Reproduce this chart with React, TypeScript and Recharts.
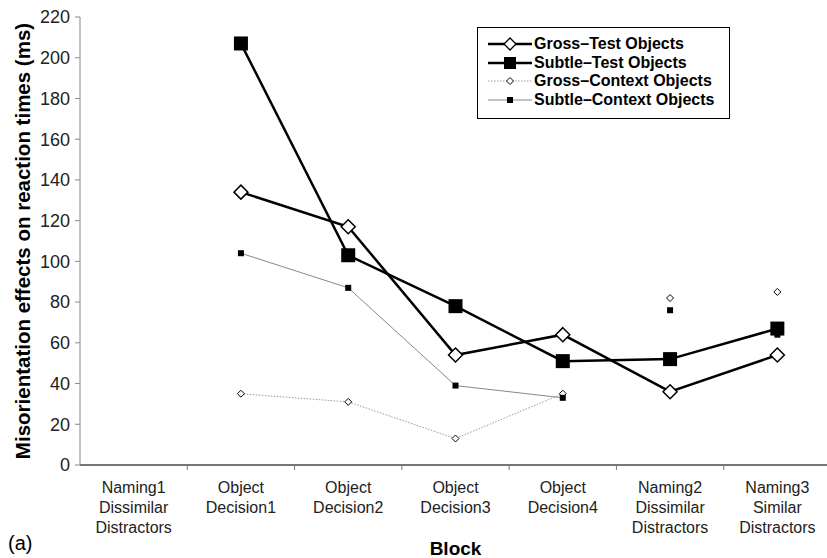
import { LineChart, Line, XAxis, YAxis, Legend, Label } from "recharts";

const blocks = [
  "Naming1|Dissimilar|Distractors",
  "Object|Decision1",
  "Object|Decision2",
  "Object|Decision3",
  "Object|Decision4",
  "Naming2|Dissimilar|Distractors",
  "Naming3|Similar|Distractors",
];
const grossTest = [null, 134, 117, 54, 64, 36, 54];
const subtleTest = [null, 207, 103, 78, 51, 52, 67];
const grossContext = [null, 35, 31, 13, 35, 82, 85];
const subtleContext = [null, 104, 87, 39, 33, 76, 64];
// context points are only joined by a line within the object decision blocks
const contextJoined = [false, true, true, true, true, false, false];
const yTicks = [0, 20, 40, 60, 80, 100, 120, 140, 160, 180, 200, 220];

const data = blocks.map((block, i) => ({
  block,
  grossTest: grossTest[i],
  subtleTest: subtleTest[i],
  grossCtxLine: contextJoined[i] ? grossContext[i] : null,
  grossCtxPts: contextJoined[i] ? null : grossContext[i],
  subtleCtxLine: contextJoined[i] ? subtleContext[i] : null,
  subtleCtxPts: contextJoined[i] ? null : subtleContext[i],
}));

const FONT = "'Liberation Sans', Arial, sans-serif";
const CHART_W = 835;
const PLOT_LEFT = 80;
const PLOT_RIGHT = 4;
const BAND = (CHART_W - PLOT_LEFT - PLOT_RIGHT) / blocks.length;

const diamond = (r: number, sw: number) => (props: any) => {
  const { cx, cy, value, index } = props;
  if (cx == null || cy == null || value == null) return <g key={index} />;
  return (
    <path
      key={index}
      d={`M${cx},${cy - r}L${cx + r},${cy}L${cx},${cy + r}L${cx - r},${cy}Z`}
      fill="#fff"
      stroke="#000"
      strokeWidth={sw}
    />
  );
};

const square = (h: number) => (props: any) => {
  const { cx, cy, value, index } = props;
  if (cx == null || cy == null || value == null) return <g key={index} />;
  return <rect key={index} x={cx - h} y={cy - h} width={h * 2} height={h * 2} fill="#000" />;
};

const XTick = (props: any) => {
  const { x, y, payload } = props;
  const lines = String(payload.value).split("|");
  return (
    <g>
      <line x1={x + BAND / 2} x2={x + BAND / 2} y1={y} y2={y + 5} stroke="#777" strokeWidth={1} />
      {lines.map((t, i) => (
        <text
          key={i}
          x={x}
          y={y + 28 + i * 20}
          textAnchor="middle"
          fontSize={16}
          fontFamily={FONT}
          fill="#222"
        >
          {t}
        </text>
      ))}
    </g>
  );
};

const legendItems = [
  { label: "Gross–Test Objects", line: "#000", width: 2.5, dash: undefined, marker: "bigDiamond" },
  { label: "Subtle–Test Objects", line: "#000", width: 2.5, dash: undefined, marker: "bigSquare" },
  { label: "Gross–Context Objects", line: "#999", width: 1, dash: "1.5 1.5", marker: "smallDiamond" },
  { label: "Subtle–Context Objects", line: "#888", width: 1, dash: undefined, marker: "smallSquare" },
];

const LegendBox = () => (
  <div
    style={{
      border: "1.5px solid #000",
      background: "#fff",
      padding: "7px 10px 9px 10px",
      width: 231,
      fontFamily: FONT,
    }}
  >
    {legendItems.map((it) => (
      <div key={it.label} style={{ display: "flex", alignItems: "center", height: 18.5 }}>
        <svg width={46} height={18} style={{ flexShrink: 0 }}>
          <line x1={0} x2={44} y1={9} y2={9} stroke={it.line} strokeWidth={it.width} strokeDasharray={it.dash} />
          {it.marker === "bigDiamond" && diamond(6, 1.3)({ cx: 22, cy: 9, value: 1, index: 0 })}
          {it.marker === "bigSquare" && square(6)({ cx: 22, cy: 9, value: 1, index: 0 })}
          {it.marker === "smallDiamond" && diamond(3.5, 1)({ cx: 22, cy: 9, value: 1, index: 0 })}
          {it.marker === "smallSquare" && square(3)({ cx: 22, cy: 9, value: 1, index: 0 })}
        </svg>
        <span style={{ fontSize: 16, fontWeight: 700, color: "#000", whiteSpace: "nowrap" }}>{it.label}</span>
      </div>
    ))}
  </div>
);

export default function App() {
  return (
    <div style={{ position: "absolute", left: 0, top: 0, width: 827, height: 558, overflow: "hidden", background: "#fff" }}>
      <LineChart
        width={CHART_W}
        height={558}
        data={data}
        margin={{ top: 17, right: PLOT_RIGHT, bottom: 0, left: 0 }}
      >
        <XAxis
          dataKey="block"
          height={93}
          padding={{ left: BAND / 2, right: BAND / 2 }}
          axisLine={{ stroke: "#777", strokeWidth: 2 }}
          tickLine={false}
          tickSize={0}
          tickMargin={0}
          tick={<XTick />}
          interval={0}
        >
          <Label
            content={(p: any) => {
              const vb = p.viewBox;
              return (
                <g>
                  <text x={vb.x + vb.width / 2} y={555} textAnchor="middle" fontSize={19} fontWeight={700} fontFamily={FONT} fill="#000">
                    Block
                  </text>
                  <text x={8} y={550} fontSize={20} fontFamily={FONT} fill="#000">
                    (a)
                  </text>
                </g>
              );
            }}
          />
        </XAxis>
        <YAxis
          width={PLOT_LEFT}
          domain={[0, 220]}
          ticks={yTicks}
          interval={0}
          axisLine={{ stroke: "#888", strokeWidth: 1 }}
          tickLine={{ stroke: "#888" }}
          tickSize={5}
          tickMargin={5}
          tick={{ fontSize: 18, fontFamily: FONT, fill: "#222" }}
        >
          <Label
            content={(p: any) => {
              const vb = p.viewBox;
              const cy = vb.y + vb.height / 2;
              return (
                <text
                  x={22}
                  y={cy}
                  transform={`rotate(-90, 22, ${cy})`}
                  textAnchor="middle"
                  dominantBaseline="central"
                  fontSize={20.5}
                  fontWeight={700}
                  fontFamily={FONT}
                  fill="#000"
                >
                  Misorientation effects on reaction times (ms)
                </text>
              );
            }}
          />
        </YAxis>
        <Legend
          layout="vertical"
          align="center"
          verticalAlign="middle"
          wrapperStyle={{ left: 477, top: 27, width: "auto" }}
          content={() => <LegendBox />}
        />
        <Line
          dataKey="grossCtxLine"
          stroke="#999"
          strokeWidth={1}
          strokeDasharray="1.5 1.5"
          dot={diamond(3.5, 1)}
          activeDot={false}
          isAnimationActive={false}
        />
        <Line dataKey="grossCtxPts" stroke="none" dot={diamond(3.5, 1)} activeDot={false} isAnimationActive={false} />
        <Line
          dataKey="subtleCtxLine"
          stroke="#888"
          strokeWidth={1}
          dot={square(3)}
          activeDot={false}
          isAnimationActive={false}
        />
        <Line dataKey="subtleCtxPts" stroke="none" dot={square(3)} activeDot={false} isAnimationActive={false} />
        <Line
          dataKey="subtleTest"
          stroke="#000"
          strokeWidth={2.5}
          dot={square(7)}
          activeDot={false}
          isAnimationActive={false}
        />
        <Line
          dataKey="grossTest"
          stroke="#000"
          strokeWidth={2.5}
          dot={diamond(7, 1.5)}
          activeDot={false}
          isAnimationActive={false}
        />
      </LineChart>
    </div>
  );
}
